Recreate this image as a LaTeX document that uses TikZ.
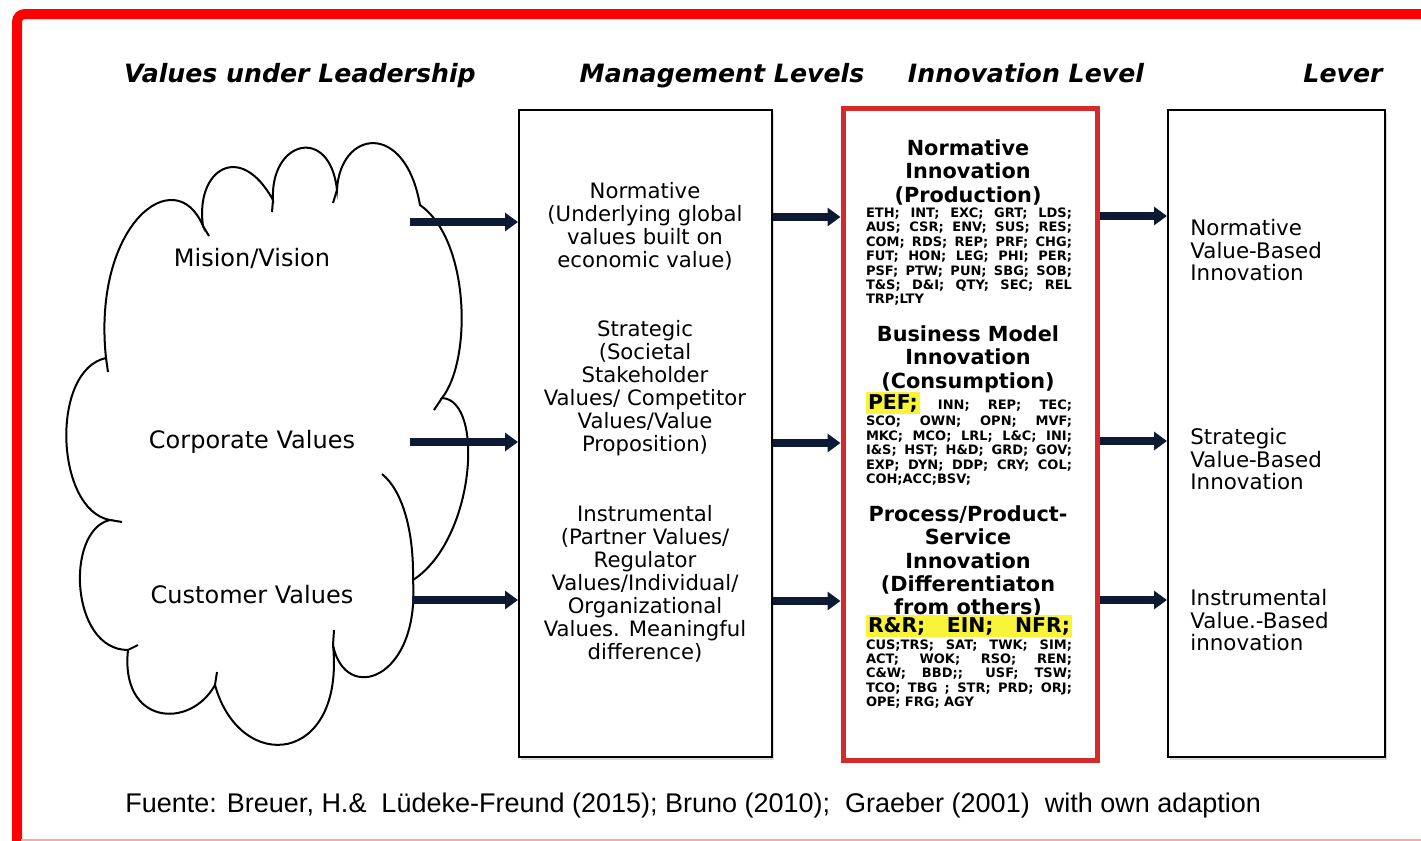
\documentclass[tikz,border=0pt]{standalone}
\usepackage{fontspec}
\setmainfont{DejaVu Sans}
\newfontfamily\footfont{Liberation Sans}
\usepackage{xcolor}
\usetikzlibrary{arrows.meta,shadows}
\definecolor{navyArrow}{HTML}{0D1A33}
\definecolor{frameRed}{HTML}{FF0000}
\definecolor{innovRed}{HTML}{D42A2A}
\definecolor{hlYellow}{HTML}{F7F43A}
\newlength{\codew}\setlength{\codew}{103pt}
\newcommand{\codeline}[1]{\makebox[\codew][s]{\spaceskip=0.25em plus 1fil\relax #1}\\}
\newcommand{\hlcode}[1]{{\setlength{\fboxsep}{1pt}\colorbox{hlYellow}{#1}}}
\tikzset{%
  >={Triangle[length=6.5pt,width=9pt]},
  base/.style = {rectangle, draw=black, line width=1pt, fill=white,
      drop shadow={shadow xshift=1.2pt, shadow yshift=-1.5pt, opacity=0.3}},
  levelBox/.style = {base, minimum width=126.5pt, minimum height=323.5pt},
  innovBox/.style = {base, draw=innovRed, line width=2.5pt,
      minimum width=127pt, minimum height=326pt},
  leverBox/.style = {base, minimum width=108.5pt, minimum height=323.5pt},
  header/.style = {anchor=base, font=\fontsize{12.6}{14}\selectfont\bfseries\itshape},
  cloudLabel/.style = {anchor=base, font=\fontsize{12}{14}\selectfont},
  levelText/.style = {anchor=north, align=center, inner sep=0pt,
      font=\fontsize{10.6}{11.5}\selectfont},
  innovTitle/.style = {anchor=north, align=center, inner sep=0pt,
      font=\fontsize{10.4}{11.6}\selectfont\bfseries},
  codeText/.style = {anchor=north, align=left, text width=\codew, inner sep=0pt,
      font=\fontsize{6.5}{7.2}\selectfont\bfseries},
  leverText/.style = {anchor=north west, align=left, inner sep=0pt,
      font=\fontsize{10.7}{11.25}\selectfont},
  flow/.style = {->, line width=4pt, draw=navyArrow},
}
\begin{document}
\begin{tikzpicture}[x=0.5pt, y=-0.5pt]
  \useasboundingbox (0,0) rectangle (1421,841);
  % frame
  \draw[frameRed, line width=5pt, rounded corners=4pt] (17,841) -- (17,14) -- (1421,14);
  \draw[red!35, line width=1pt] (21,839.5) -- (1421,839.5);

  % column headers
  \node (hValues) [header] at (300,82) {Values under Leadership};
  \node (hLevels) [header] at (722,82) {Management Levels};
  \node (hInnov)  [header] at (1026,82) {Innovation Level};
  \node (hLever)  [header] at (1343,82) {Lever};

  % cloud of values
  \draw[line width=1pt, fill=white] (106,358) .. controls (92,225) and (175,160) .. (203,226)
     .. controls (195,170) and (240,140) .. (273,200)
     .. controls (270,140) and (330,125) .. (337,190)
     .. controls (340,130) and (405,120) .. (420,205)
     .. controls (470,240) and (472,360) .. (442,398)
     .. controls (485,400) and (475,540) .. (413,580)
     .. controls (420,680) and (345,705) .. (333,645)
     .. controls (345,765) and (240,775) .. (215,685)
     .. controls (190,730) and (120,725) .. (128,650)
     .. controls (70,650) and (65,530) .. (110,520)
     .. controls (55,510) and (50,370) .. (106,358) -- cycle;
  \draw[line width=1pt] (382,474) .. controls (402,490) and (414,530) .. (413,580);
  \draw[line width=1pt] (203,226) -- (209,236) (273,200) -- (272,212)
     (337,190) -- (333,203) (442,398) -- (434,410) (333,645) -- (334,630)
     (215,685) -- (217,672) (128,650) -- (138,645) (110,520) -- (122,522)
     (106,358) -- (108,372);
  \node (mision)    [cloudLabel] at (252,266.8) {Mision/Vision};
  \node (corporate) [cloudLabel] at (252,448.8) {Corporate Values};
  \node (customer)  [cloudLabel] at (252,603.8) {Customer Values};

  % boxes
  \node (mgmt)  [levelBox] at (645.5,433.5) {};
  \node (innov) [innovBox] at (970,434) {};
  \node (lever) [leverBox] at (1276.5,433.5) {};

  % management levels
  \node (normLevel)  [levelText] at (645,182.3)
     {Normative\\(Underlying global\\values built on\\economic value)};
  \node (stratLevel) [levelText] at (645,320.3)
     {Strategic\\(Societal\\Stakeholder\\Values/ Competitor\\Values/Value\\Proposition)};
  \node (instrLevel) [levelText] at (645,505.3)
     {Instrumental\\(Partner Values/\\Regulator\\Values/Individual/\\Organizational\\Values. Meaningful\\difference)};

  % innovation levels
  \node (normInnov) [innovTitle] at (968,139.4) {Normative\\Innovation\\(Production)};
  \node (normCodes) [codeText] at (969,207.4) {%
     \codeline{ETH; INT; EXC; GRT; LDS;}
     \codeline{AUS; CSR; ENV; SUS; RES;}
     \codeline{COM; RDS; REP; PRF; CHG;}
     \codeline{FUT; HON; LEG; PHI; PER;}
     \codeline{PSF; PTW; PUN; SBG; SOB;}
     \codeline{T\&S; D\&I; QTY; SEC; REL}
     TRP;LTY};
  \node (bmInnov) [innovTitle] at (968,325.4) {Business Model\\Innovation\\(Consumption)};
  \node (bmCodes) [codeText] at (969,392) {%
     \codeline{\hlcode{\fontsize{10.2}{10.5}\selectfont PEF;} INN; REP; TEC;}
     \codeline{SCO; OWN; OPN; MVF;}
     \codeline{MKC; MCO; LRL; L\&C; INI;}
     \codeline{I\&S; HST; H\&D; GRD; GOV;}
     \codeline{EXP; DYN; DDP; CRY; COL;}
     COH;ACC;BSV;};
  \node (ppInnov) [innovTitle] at (968,505.4)
     {Process/Product-\\Service\\Innovation\\(Differentiaton\\from others)};
  \node (ppCodes) [codeText] at (969,615) {%
     \hlcode{\makebox[\dimexpr\codew-2pt\relax][s]{\spaceskip=0.25em plus 1fil\relax
       \fontsize{10.2}{10.5}\selectfont R\&R; EIN; NFR;}}\\
     \codeline{CUS;TRS; SAT; TWK; SIM;}
     \codeline{ACT; WOK; RSO; REN;}
     \codeline{C\&W; BBD;; USF; TSW;}
     \codeline{TCO; TBG ; STR; PRD; ORJ;}
     OPE; FRG; AGY};

  % levers
  \node (normLever)  [leverText] at (1190,219) {Normative\\Value-Based\\Innovation};
  \node (stratLever) [leverText] at (1190,428) {Strategic\\Value-Based\\Innovation};
  \node (instrLever) [leverText] at (1190,589) {Instrumental\\Value.-Based\\innovation};

  % source
  \node (source) [anchor=base west, inner sep=0pt, font=\footfont\fontsize{13.5}{15}\selectfont]
     at (125,812) {Fuente: Breuer, H.\&~ Lüdeke-Freund (2015); Bruno (2010);~ Graeber (2001)~ with own adaption};

  % arrows between columns
  \coordinate (rowA) at (410,222);
  \coordinate (rowB) at (410,442);
  \coordinate (rowC) at (412,600);
  \coordinate (rowA2) at (0,217);
  \coordinate (rowB2) at (0,443);
  \coordinate (rowC2) at (0,601);
  \coordinate (rowA3) at (0,216);
  \coordinate (rowB3) at (0,441);
  \coordinate (rowC3) at (0,600);
  \draw[flow] (rowA) -- (rowA -| mgmt.west);
  \draw[flow] (rowB) -- (rowB -| mgmt.west);
  \draw[flow] (rowC) -- (rowC -| mgmt.west);
  \draw[flow] (mgmt.east |- rowA2) -- (innov.west |- rowA2);
  \draw[flow] (mgmt.east |- rowB2) -- (innov.west |- rowB2);
  \draw[flow] (mgmt.east |- rowC2) -- (innov.west |- rowC2);
  \draw[flow] (innov.east |- rowA3) -- (lever.west |- rowA3);
  \draw[flow] (innov.east |- rowB3) -- (lever.west |- rowB3);
  \draw[flow] (innov.east |- rowC3) -- (lever.west |- rowC3);
\end{tikzpicture}
\end{document}
